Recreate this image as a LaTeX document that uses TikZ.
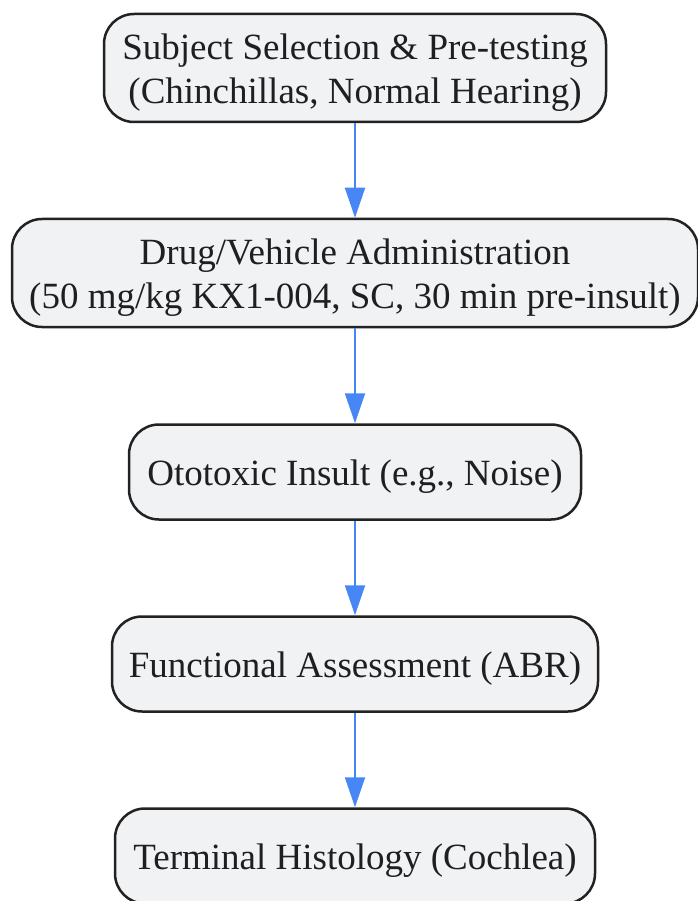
\documentclass[tikz,border=0pt]{standalone}
\usepackage{fontspec}
\setmainfont{Liberation Serif}
\usepackage{tikz}
\usetikzlibrary{shapes.geometric, arrows.meta}
\definecolor{boxfill}{RGB}{241,242,244}
\definecolor{boxline}{RGB}{34,34,34}
\definecolor{arrowblue}{RGB}{72,134,245}
\newcommand{\boxstrut}{\rule{0pt}{34pt}}
\tikzstyle{process} = [draw=boxline, fill=boxfill, line width=2.5pt, rounded corners=30pt, align=center, inner sep=0pt, font=\fontsize{37}{44}\selectfont, text=boxline!90!black]
\tikzstyle{arrow} = [line width=2pt, draw=arrowblue, -{Triangle[length=30pt,width=20pt,color=arrowblue]}]

\begin{document}
\begin{tikzpicture}[x=1pt,y=-1pt]
	\useasboundingbox (0,0) rectangle (697,901);
	% the five steps
	\node[process, minimum width=502pt, minimum height=108pt] (sel) at (355,68)
		{\boxstrut Subject Selection \& Pre-testing\\(Chinchillas, Normal Hearing)};
	\node[process, minimum width=686pt, minimum height=108pt] (drug) at (355,273)
		{\boxstrut Drug/Vehicle Administration\\(50 mg/kg KX1-004, SC, 30 min pre-insult)};
	\node[process, minimum width=452pt, minimum height=95pt] (ins) at (355,472)
		{\boxstrut Ototoxic Insult (e.g., Noise)};
	\node[process, minimum width=486pt, minimum height=95pt] (func) at (355,664)
		{\boxstrut Functional Assessment (ABR)};
	\node[process, minimum width=480pt, minimum height=95pt] (hist) at (355,856)
		{\boxstrut Terminal Histology (Cochlea)};
	% arrows between them
	\foreach \a/\b in {sel/drug, drug/ins, ins/func, func/hist}
	{
		\draw[arrow] (\a) -- (\b);
	}
\end{tikzpicture}
\end{document}
